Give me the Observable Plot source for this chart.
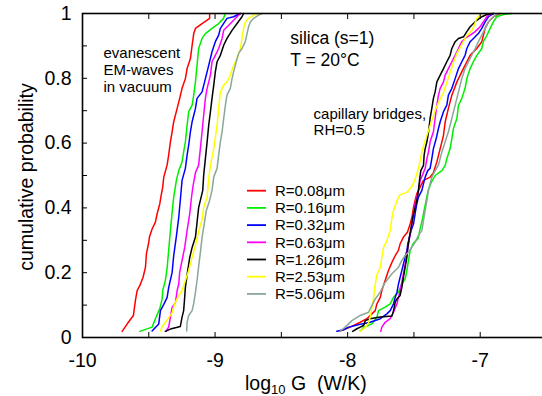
<!DOCTYPE html>
<html><head><meta charset="utf-8">
<script src="https://cdn.jsdelivr.net/npm/d3@7"></script>
<script src="https://cdn.jsdelivr.net/npm/@observablehq/plot@0.6"></script>
<style>
html,body{margin:0;padding:0;background:#fff;overflow:hidden;}
#chart{position:relative;width:542px;height:396px;}
</style></head><body><div id="chart"></div>
<script>
// legend labels and colours
const radii = ["R=0.08μm","R=0.16μm","R=0.32μm","R=0.63μm","R=1.26μm","R=2.53μm","R=5.06μm"];
const colors = ["#ff0000","#00ee00","#0000ff","#ff00ff","#000000","#ffff00","#8aa896"];

// evanescent EM-waves: [log10 G, cumulative probability]
const ev008 = [[-9.701,0.019],[-9.661,0.043],[-9.616,0.068],[-9.601,0.114],[-9.588,0.145],[-9.568,0.160],[-9.543,0.186],[-9.525,0.217],[-9.518,0.258],[-9.500,0.294],[-9.495,0.310],[-9.475,0.335],[-9.450,0.356],[-9.437,0.382],[-9.417,0.413],[-9.407,0.438],[-9.395,0.464],[-9.387,0.495],[-9.362,0.532],[-9.350,0.563],[-9.337,0.604],[-9.324,0.635],[-9.312,0.666],[-9.286,0.707],[-9.267,0.738],[-9.249,0.769],[-9.224,0.799],[-9.211,0.830],[-9.186,0.861],[-9.173,0.902],[-9.161,0.938],[-9.148,0.954],[-9.098,0.969],[-9.041,0.985],[-9.041,1.0]];
const ev016 = [[-9.568,0.019],[-9.475,0.032],[-9.450,0.058],[-9.417,0.089],[-9.399,0.119],[-9.395,0.145],[-9.375,0.176],[-9.362,0.213],[-9.350,0.269],[-9.337,0.330],[-9.324,0.386],[-9.312,0.433],[-9.292,0.485],[-9.274,0.515],[-9.249,0.542],[-9.237,0.573],[-9.224,0.604],[-9.211,0.655],[-9.199,0.697],[-9.173,0.717],[-9.161,0.748],[-9.148,0.789],[-9.136,0.840],[-9.124,0.892],[-9.098,0.923],[-9.073,0.938],[-9.023,0.954],[-8.973,0.969],[-8.936,0.985],[-8.923,1.0]];
const ev032 = [[-9.475,0.020],[-9.425,0.042],[-9.412,0.083],[-9.387,0.102],[-9.362,0.123],[-9.350,0.154],[-9.324,0.201],[-9.312,0.253],[-9.292,0.312],[-9.274,0.371],[-9.261,0.429],[-9.249,0.485],[-9.224,0.522],[-9.211,0.563],[-9.199,0.594],[-9.186,0.635],[-9.173,0.666],[-9.148,0.707],[-9.136,0.738],[-9.098,0.758],[-9.073,0.799],[-9.048,0.840],[-9.023,0.882],[-8.998,0.913],[-8.973,0.933],[-8.960,0.954],[-8.936,0.969],[-8.910,0.985],[-8.860,0.990],[-8.809,1.0]];
const ev063 = [[-9.369,0.020],[-9.350,0.032],[-9.337,0.063],[-9.324,0.093],[-9.299,0.108],[-9.286,0.145],[-9.274,0.166],[-9.267,0.201],[-9.249,0.238],[-9.229,0.278],[-9.211,0.330],[-9.191,0.382],[-9.179,0.429],[-9.167,0.466],[-9.148,0.509],[-9.124,0.532],[-9.111,0.583],[-9.098,0.635],[-9.086,0.686],[-9.073,0.738],[-9.060,0.769],[-9.035,0.810],[-9.023,0.851],[-8.998,0.871],[-8.973,0.892],[-8.947,0.923],[-8.935,0.948],[-8.897,0.964],[-8.860,0.979],[-8.834,0.990],[-8.809,1.0]];
const ev126 = [[-9.375,0.019],[-9.337,0.026],[-9.262,0.034],[-9.249,0.063],[-9.237,0.083],[-9.231,0.114],[-9.224,0.154],[-9.211,0.194],[-9.191,0.247],[-9.173,0.278],[-9.148,0.310],[-9.136,0.355],[-9.124,0.401],[-9.111,0.423],[-9.093,0.454],[-9.086,0.500],[-9.073,0.552],[-9.060,0.604],[-9.048,0.655],[-9.035,0.697],[-9.023,0.738],[-9.010,0.779],[-8.998,0.820],[-8.985,0.851],[-8.960,0.871],[-8.935,0.902],[-8.910,0.923],[-8.872,0.948],[-8.834,0.969],[-8.797,0.990],[-8.785,1.0]];
const ev253 = [[-9.412,0.020],[-9.399,0.034],[-9.362,0.054],[-9.324,0.076],[-9.307,0.102],[-9.277,0.127],[-9.249,0.145],[-9.224,0.176],[-9.199,0.207],[-9.173,0.248],[-9.148,0.284],[-9.126,0.324],[-9.098,0.364],[-9.086,0.401],[-9.060,0.433],[-9.048,0.491],[-9.035,0.532],[-9.010,0.583],[-8.985,0.655],[-8.973,0.707],[-8.960,0.758],[-8.935,0.779],[-8.910,0.789],[-8.885,0.810],[-8.860,0.840],[-8.834,0.861],[-8.809,0.892],[-8.797,0.923],[-8.785,0.954],[-8.772,0.974],[-8.747,0.985],[-8.709,0.995],[-8.674,1.0]];
const ev506 = [[-9.214,0.020],[-9.211,0.047],[-9.199,0.068],[-9.173,0.083],[-9.161,0.105],[-9.148,0.139],[-9.136,0.176],[-9.124,0.219],[-9.111,0.262],[-9.098,0.309],[-9.081,0.352],[-9.066,0.392],[-9.041,0.423],[-9.023,0.454],[-9.010,0.495],[-8.985,0.522],[-8.973,0.563],[-8.960,0.604],[-8.947,0.635],[-8.935,0.676],[-8.922,0.717],[-8.910,0.748],[-8.885,0.769],[-8.872,0.799],[-8.860,0.820],[-8.847,0.840],[-8.834,0.861],[-8.822,0.877],[-8.797,0.892],[-8.772,0.913],[-8.759,0.938],[-8.747,0.959],[-8.734,0.974],[-8.709,0.985],[-8.671,0.995],[-8.646,1.0]];

// capillary bridges, RH=0.5: [log10 G, cumulative probability]
const cb008 = [[-8.056,0.020],[-7.980,0.032],[-7.905,0.047],[-7.855,0.058],[-7.817,0.073],[-7.792,0.083],[-7.779,0.104],[-7.754,0.124],[-7.742,0.145],[-7.717,0.176],[-7.692,0.207],[-7.666,0.232],[-7.641,0.253],[-7.617,0.269],[-7.604,0.289],[-7.579,0.310],[-7.549,0.325],[-7.528,0.351],[-7.515,0.371],[-7.503,0.402],[-7.491,0.423],[-7.478,0.444],[-7.453,0.464],[-7.428,0.485],[-7.378,0.495],[-7.353,0.509],[-7.327,0.542],[-7.302,0.583],[-7.277,0.624],[-7.264,0.666],[-7.240,0.707],[-7.214,0.748],[-7.176,0.789],[-7.151,0.810],[-7.127,0.830],[-7.101,0.851],[-7.076,0.871],[-7.026,0.892],[-6.988,0.913],[-6.976,0.933],[-6.963,0.954],[-6.938,0.974],[-6.900,0.990],[-6.850,1.0]];
const cb016 = [[-7.905,0.020],[-7.880,0.031],[-7.817,0.042],[-7.779,0.063],[-7.767,0.083],[-7.717,0.094],[-7.679,0.104],[-7.654,0.124],[-7.616,0.140],[-7.591,0.166],[-7.566,0.181],[-7.553,0.207],[-7.541,0.238],[-7.528,0.269],[-7.506,0.290],[-7.468,0.306],[-7.453,0.336],[-7.438,0.361],[-7.423,0.392],[-7.408,0.423],[-7.393,0.454],[-7.370,0.478],[-7.340,0.500],[-7.289,0.515],[-7.264,0.531],[-7.252,0.552],[-7.227,0.583],[-7.214,0.614],[-7.202,0.645],[-7.176,0.676],[-7.164,0.716],[-7.139,0.738],[-7.114,0.769],[-7.101,0.799],[-7.076,0.830],[-7.051,0.852],[-7.026,0.870],[-6.988,0.892],[-6.976,0.914],[-6.950,0.932],[-6.925,0.954],[-6.900,0.975],[-6.875,0.990],[-6.825,0.997],[-6.760,1.0]];
const cb032 = [[-8.081,0.019],[-8.031,0.024],[-7.993,0.032],[-7.943,0.037],[-7.892,0.042],[-7.830,0.047],[-7.754,0.058],[-7.704,0.073],[-7.679,0.083],[-7.654,0.104],[-7.641,0.124],[-7.628,0.140],[-7.616,0.166],[-7.604,0.186],[-7.591,0.207],[-7.579,0.227],[-7.566,0.248],[-7.553,0.269],[-7.546,0.289],[-7.534,0.310],[-7.521,0.330],[-7.503,0.351],[-7.491,0.382],[-7.478,0.413],[-7.466,0.433],[-7.440,0.454],[-7.428,0.474],[-7.415,0.495],[-7.396,0.515],[-7.378,0.522],[-7.365,0.552],[-7.353,0.583],[-7.332,0.614],[-7.315,0.645],[-7.302,0.666],[-7.277,0.697],[-7.252,0.717],[-7.240,0.748],[-7.214,0.769],[-7.189,0.799],[-7.164,0.830],[-7.139,0.851],[-7.114,0.871],[-7.101,0.892],[-7.076,0.913],[-7.051,0.923],[-7.014,0.938],[-6.988,0.954],[-6.963,0.974],[-6.938,0.990],[-6.900,1.0]];
const cb063 = [[-7.750,0.019],[-7.742,0.032],[-7.717,0.047],[-7.679,0.058],[-7.654,0.078],[-7.628,0.104],[-7.616,0.124],[-7.604,0.145],[-7.591,0.171],[-7.579,0.197],[-7.566,0.227],[-7.553,0.258],[-7.541,0.289],[-7.528,0.320],[-7.515,0.351],[-7.503,0.382],[-7.491,0.413],[-7.478,0.433],[-7.466,0.454],[-7.453,0.485],[-7.428,0.509],[-7.415,0.522],[-7.402,0.552],[-7.390,0.573],[-7.378,0.604],[-7.353,0.635],[-7.340,0.676],[-7.327,0.717],[-7.315,0.748],[-7.302,0.769],[-7.277,0.789],[-7.264,0.810],[-7.240,0.830],[-7.214,0.851],[-7.189,0.871],[-7.164,0.892],[-7.139,0.913],[-7.114,0.923],[-7.076,0.933],[-7.038,0.944],[-7.001,0.959],[-6.976,0.974],[-6.950,0.990],[-6.913,1.0]];
const cb126 = [[-7.962,0.019],[-7.930,0.027],[-7.905,0.032],[-7.880,0.037],[-7.867,0.052],[-7.830,0.058],[-7.754,0.063],[-7.666,0.066],[-7.654,0.083],[-7.641,0.109],[-7.628,0.119],[-7.604,0.130],[-7.591,0.155],[-7.579,0.186],[-7.566,0.217],[-7.553,0.248],[-7.546,0.279],[-7.534,0.310],[-7.521,0.340],[-7.508,0.371],[-7.496,0.392],[-7.483,0.413],[-7.473,0.433],[-7.466,0.454],[-7.458,0.485],[-7.448,0.515],[-7.428,0.531],[-7.423,0.563],[-7.415,0.583],[-7.402,0.604],[-7.390,0.635],[-7.378,0.676],[-7.365,0.707],[-7.353,0.738],[-7.340,0.758],[-7.327,0.789],[-7.302,0.810],[-7.277,0.830],[-7.252,0.851],[-7.227,0.871],[-7.214,0.892],[-7.189,0.913],[-7.164,0.923],[-7.126,0.928],[-7.101,0.944],[-7.076,0.959],[-7.051,0.969],[-7.026,0.979],[-6.988,0.990],[-6.950,0.997],[-6.900,1.0]];
const cb253 = [[-7.905,0.020],[-7.867,0.031],[-7.842,0.046],[-7.830,0.062],[-7.817,0.093],[-7.805,0.120],[-7.792,0.164],[-7.779,0.194],[-7.754,0.216],[-7.742,0.247],[-7.729,0.278],[-7.704,0.299],[-7.679,0.330],[-7.666,0.370],[-7.654,0.392],[-7.628,0.423],[-7.604,0.441],[-7.553,0.448],[-7.515,0.466],[-7.491,0.488],[-7.466,0.522],[-7.453,0.546],[-7.438,0.577],[-7.415,0.608],[-7.390,0.639],[-7.365,0.670],[-7.340,0.701],[-7.315,0.725],[-7.277,0.756],[-7.252,0.787],[-7.227,0.818],[-7.202,0.849],[-7.176,0.877],[-7.139,0.904],[-7.106,0.929],[-7.063,0.948],[-7.051,0.957],[-7.026,0.985],[-6.988,1.0]];
const cb506 = [[-8.056,0.020],[-8.018,0.032],[-7.968,0.052],[-7.905,0.068],[-7.842,0.078],[-7.817,0.099],[-7.792,0.119],[-7.754,0.140],[-7.717,0.170],[-7.666,0.197],[-7.616,0.217],[-7.591,0.238],[-7.566,0.253],[-7.541,0.263],[-7.515,0.279],[-7.491,0.294],[-7.466,0.315],[-7.440,0.330],[-7.428,0.361],[-7.415,0.392],[-7.402,0.423],[-7.390,0.454],[-7.378,0.474],[-7.365,0.495],[-7.340,0.515],[-7.315,0.532],[-7.289,0.573],[-7.264,0.604],[-7.240,0.635],[-7.214,0.676],[-7.189,0.717],[-7.164,0.758],[-7.139,0.799],[-7.114,0.830],[-7.076,0.861],[-7.038,0.892],[-7.014,0.913],[-6.988,0.933],[-6.963,0.954],[-6.938,0.974],[-6.900,0.990],[-6.863,1.0]];

const evanescent = [ev008, ev016, ev032, ev063, ev126, ev253, ev506];
const capillary = [cb008, cb016, cb032, cb063, cb126, cb253, cb506];

// axes
const xTicks = [-10,-9.5,-9,-8.5,-8,-7.5,-7,-6.5];
const xLabels = [-10,-9,-8,-7];
const yTicks = [0,0.1,0.2,0.3,0.4,0.5,0.6,0.7,0.8,0.9,1];
const yLabels = [0,0.2,0.4,0.6,0.8,1];

const fmtX = d => (d < 0 ? "-" : "") + Math.abs(d);
const fmtY = d => String(+d.toFixed(1));
const blank = () => "";

const lineMarks = [];
radii.forEach((r, i) => {
  lineMarks.push(Plot.line(evanescent[i], {x: d => d[0], y: d => d[1], stroke: colors[i], strokeWidth: 1.5}));
});
radii.forEach((r, i) => {
  lineMarks.push(Plot.line(capillary[i], {x: d => d[0], y: d => d[1], stroke: colors[i], strokeWidth: 1.5}));
});

const TS = 5; // inward tick length
const plot = Plot.plot({
  width: 542, height: 396,
  marginLeft: 82, marginRight: -4, marginTop: 13, marginBottom: 59,
  x: {domain: [-10, -6.5]},
  y: {domain: [0, 1]},
  style: {fontFamily: "'Liberation Sans', Arial, sans-serif", fontSize: "19.5px", color: "black", background: "white", overflow: "hidden"},
  marks: [
    ...lineMarks,
    Plot.text(["evanescent\nEM-waves\nin vacuum"], {x: -9.842, y: 0.827, text: d => d, textAnchor: "start", lineAnchor: "middle", lineHeight: 1.13, fontSize: 15, fill: "black"}),
    Plot.text(["silica (s=1)\nT = 20°C"], {x: -8.433, y: 0.895, text: d => d, textAnchor: "start", lineAnchor: "middle", lineHeight: 1.26, fontSize: 17.5, fill: "black"}),
    Plot.text(["capillary bridges,\nRH=0.5"], {x: -8.257, y: 0.667, text: d => d, textAnchor: "start", lineAnchor: "middle", lineHeight: 1.07, fontSize: 15, fill: "black"}),
    Plot.axisX(xTicks, {anchor: "bottom", tickSize: TS, dy: -TS, tickFormat: blank, label: null}),
    Plot.axisX(xTicks, {anchor: "top", tickSize: TS, dy: TS, tickFormat: blank, label: null}),
    Plot.axisY(yTicks, {anchor: "left", tickSize: TS, dx: TS, tickFormat: blank, label: null}),
    Plot.axisY(yTicks, {anchor: "right", tickSize: TS, dx: -TS, tickFormat: blank, label: null}),
    Plot.axisX(xLabels, {anchor: "bottom", tickSize: 0, tickPadding: 16, tickFormat: fmtX, label: null}),
    Plot.axisY(yLabels, {anchor: "left", tickSize: 0, tickPadding: 11, tickFormat: fmtY, label: null}),
    Plot.frame({stroke: "black", strokeWidth: 1.6})
  ]
});

const svg = d3.select(plot);
// axis titles
const xl = svg.append("text").attr("x", 245).attr("y", 390).attr("text-anchor", "start").attr("font-size", 19.5).attr("fill", "black").style("white-space", "pre");
xl.append("tspan").text("log");
xl.append("tspan").attr("font-size", 13).attr("dy", 4).text("10");
xl.append("tspan").attr("dy", -4).text(" G  (W/K)");
svg.append("text").attr("transform", "translate(33,177) rotate(-90)").attr("text-anchor", "middle").attr("font-size", 19.5).attr("fill", "black").text("cumulative probability");

// legend
const leg = svg.append("g").attr("text-anchor", "start");
radii.forEach((r, i) => {
  const y = 190.7 + i * 17.2;
  leg.append("line").attr("x1", 247).attr("x2", 266).attr("y1", y).attr("y2", y).attr("stroke", colors[i]).attr("stroke-width", 1.8);
  leg.append("text").attr("x", 275).attr("y", y).attr("dy", "0.35em").attr("text-anchor", "start").attr("font-size", 15).attr("fill", "black").text(r);
});

document.getElementById("chart").appendChild(plot);
</script></body></html>
